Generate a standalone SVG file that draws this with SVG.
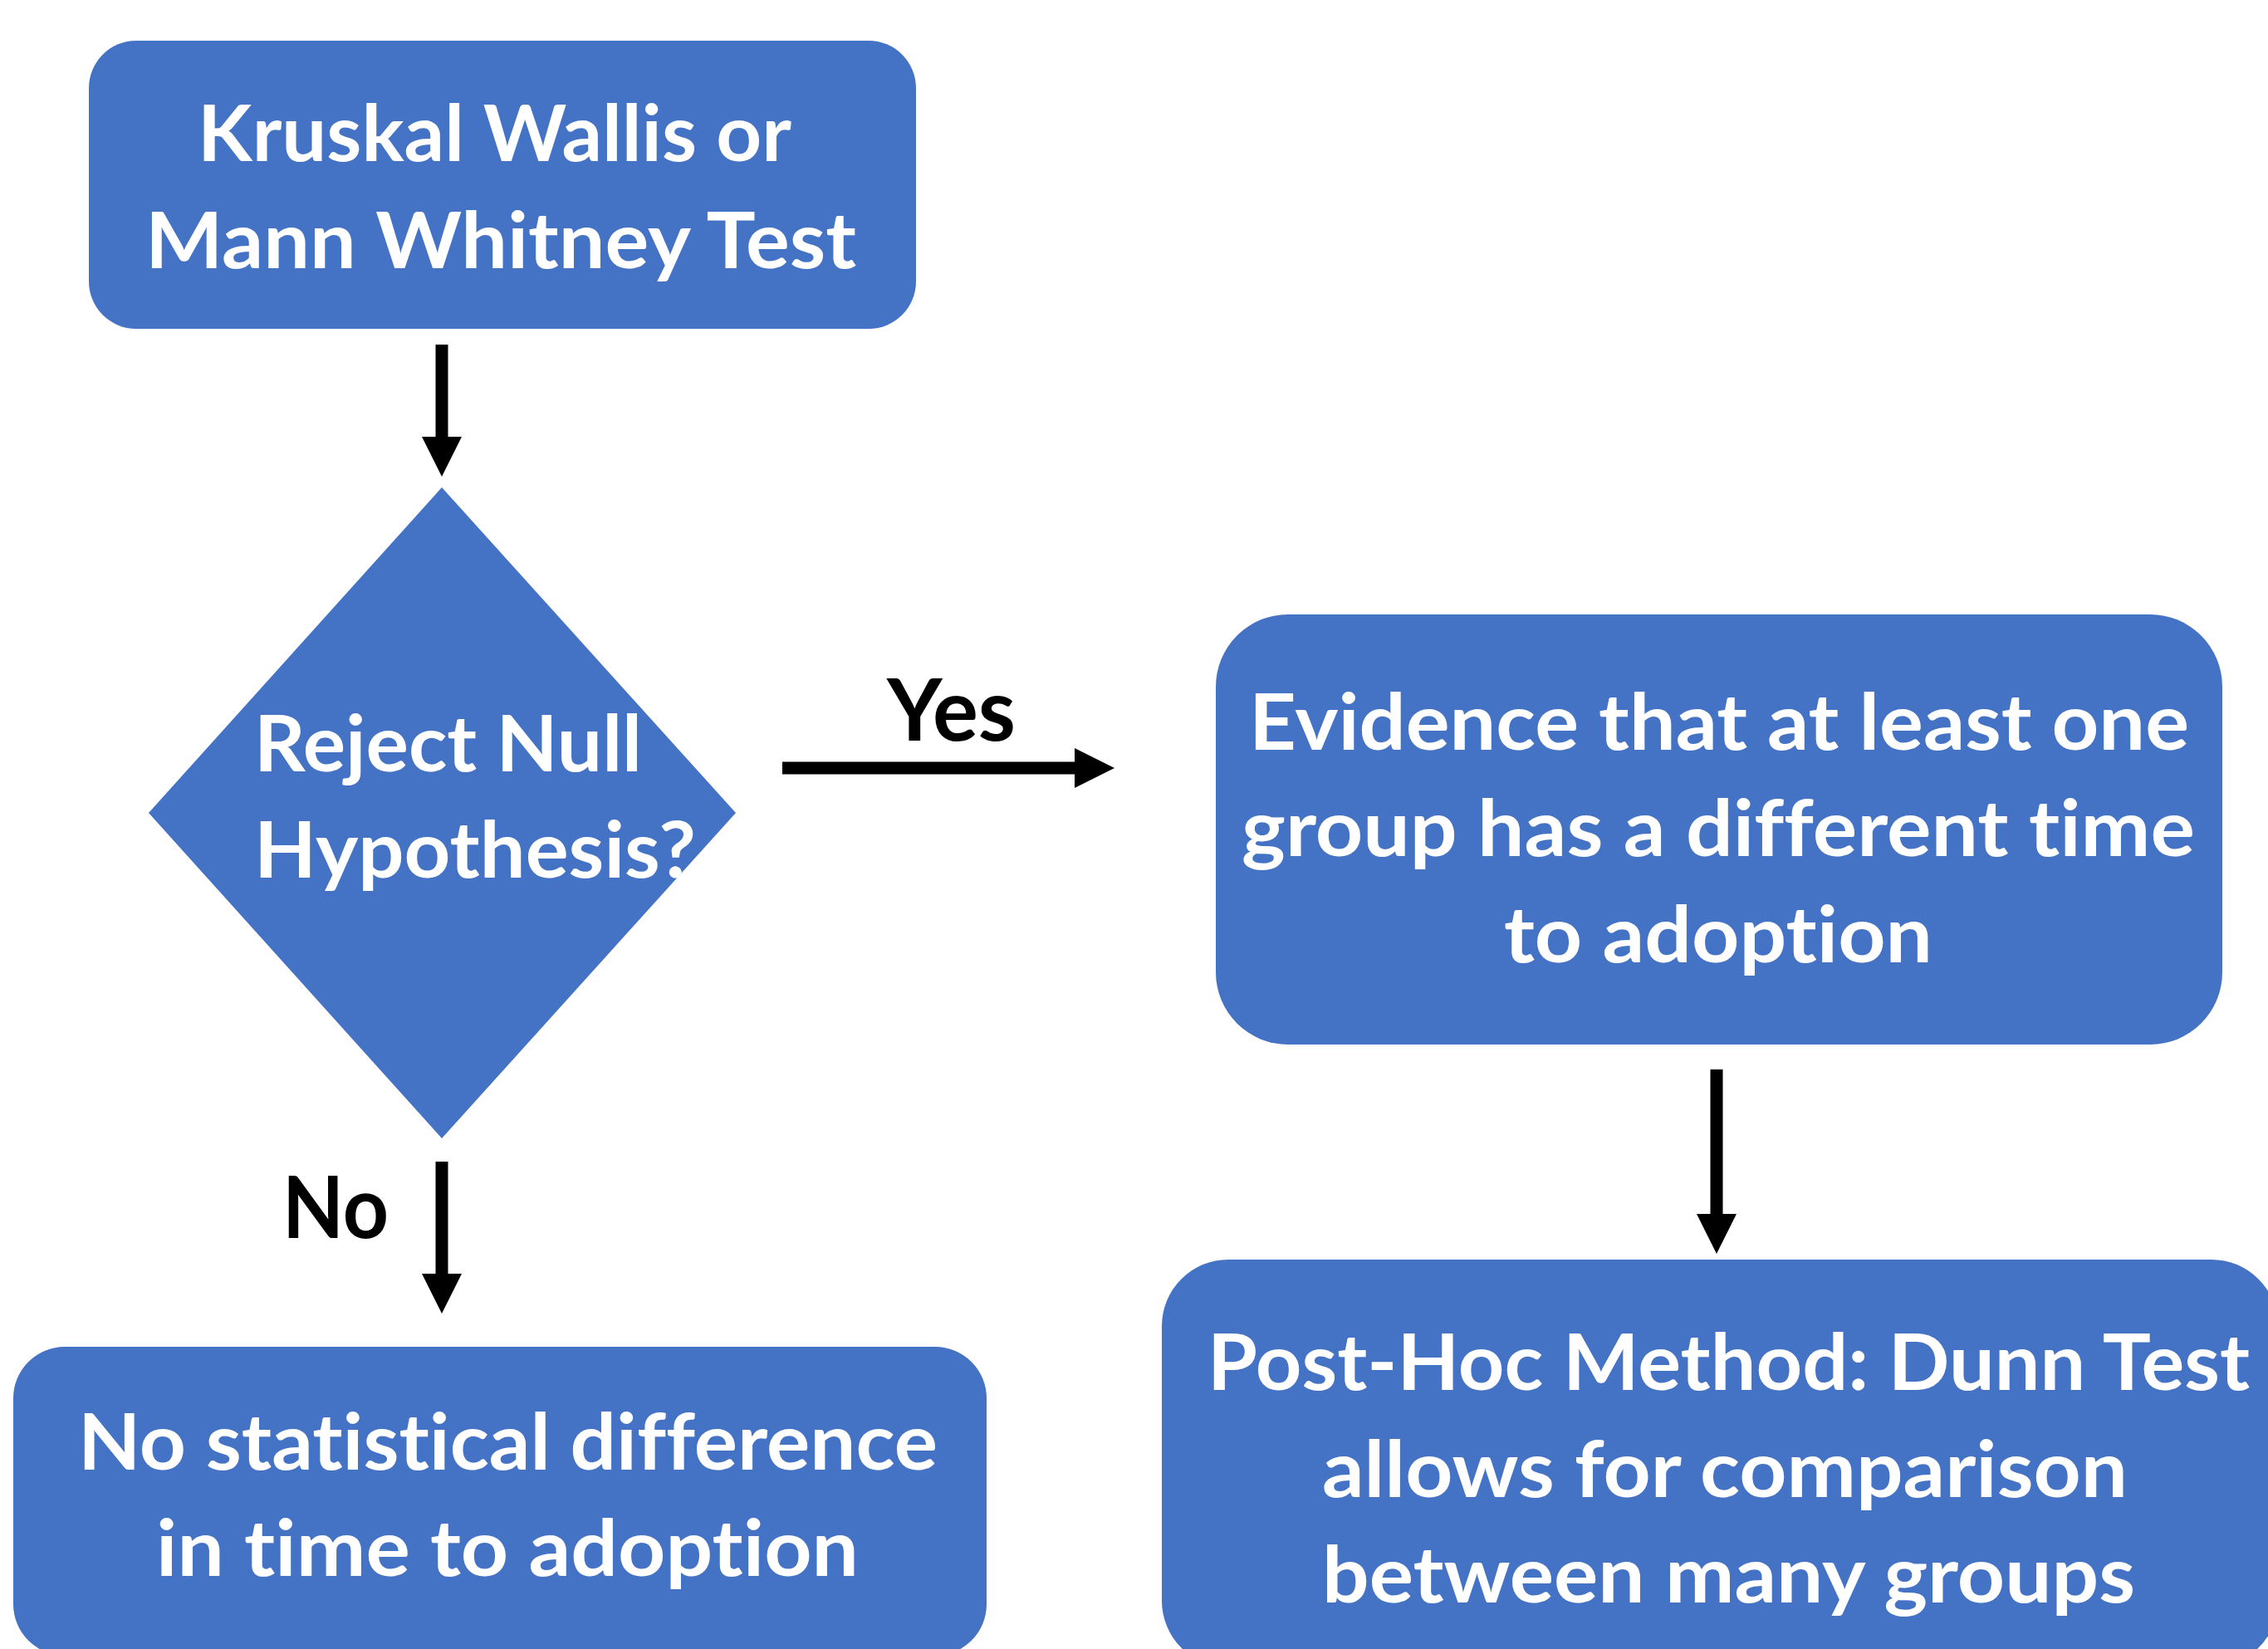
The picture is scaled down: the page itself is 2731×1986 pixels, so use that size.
<svg xmlns="http://www.w3.org/2000/svg" width="2731" height="1986" viewBox="0 0 2731 1986">
  <style>
    .shape { fill: #4472C4; }
    .lbl { font-family: Lato, "Open Sans", "Liberation Sans", sans-serif; font-weight: bold; fill: #FFFFFF; font-size: 94px; font-variant-ligatures: none; font-feature-settings: "liga" 0, "clig" 0; }
    .edge-lbl { font-family: Lato, "Open Sans", "Liberation Sans", sans-serif; font-weight: bold; fill: #000000; font-size: 104px; font-variant-ligatures: none; }
    .conn { stroke: #000000; stroke-width: 15; fill: none; marker-end: url(#head); }
  </style>
  <defs>
    <marker id="head" viewBox="0 0 48 48" markerWidth="48" markerHeight="48" refX="0" refY="24" orient="auto" markerUnits="userSpaceOnUse">
      <path d="M0,0 L48,24 L0,48 Z" fill="#000000"/>
    </marker>
  </defs>
  <rect width="2731" height="1986" fill="#FFFFFF"/>

  <!-- connectors -->
  <g id="connectors">
    <line class="conn" x1="532" y1="415" x2="532" y2="526"/>
    <line class="conn" x1="942" y1="925" x2="1294" y2="925"/>
    <line class="conn" x1="2067" y1="1288" x2="2067" y2="1462"/>
    <line class="conn" x1="532" y1="1399" x2="532" y2="1534"/>
    <text class="edge-lbl" x="1068" y="892" textLength="155" lengthAdjust="spacingAndGlyphs">Yes</text>
    <text class="edge-lbl" x="340" y="1491" textLength="128" lengthAdjust="spacingAndGlyphs">No</text>
  </g>

  <!-- start: the test -->
  <g id="node-test">
    <rect class="shape" x="107" y="49" width="996" height="347" rx="57" ry="57"/>
    <text class="lbl" x="238" y="194" textLength="715" lengthAdjust="spacingAndGlyphs">Kruskal Wallis or</text>
    <text class="lbl" x="175" y="323" textLength="856" lengthAdjust="spacingAndGlyphs">Mann Whitney Test</text>
  </g>

  <!-- decision -->
  <g id="node-decision">
    <polygon class="shape" points="532,587 886,979 532,1371 179,979"/>
    <text class="lbl" x="306" y="929" textLength="467" lengthAdjust="spacingAndGlyphs">Reject Null</text>
    <text class="lbl" x="306" y="1057" textLength="532" lengthAdjust="spacingAndGlyphs">Hypothesis?</text>
  </g>

  <!-- yes branch -->
  <g id="node-evidence">
    <rect class="shape" x="1464" y="740" width="1212" height="518" rx="87" ry="87"/>
    <text class="lbl" x="1504" y="903" textLength="1132" lengthAdjust="spacingAndGlyphs">Evidence that at least one</text>
    <text class="lbl" x="1495" y="1031" textLength="1148" lengthAdjust="spacingAndGlyphs">group has a different time</text>
    <text class="lbl" x="1811" y="1159" textLength="516" lengthAdjust="spacingAndGlyphs">to adoption</text>
  </g>

  <g id="node-posthoc">
    <rect class="shape" x="1399" y="1517" width="1344" height="491" rx="80" ry="80"/>
    <text class="lbl" x="1454" y="1674" textLength="1255" lengthAdjust="spacingAndGlyphs">Post-Hoc Method: Dunn Test</text>
    <text class="lbl" x="1592" y="1803" textLength="970" lengthAdjust="spacingAndGlyphs">allows for comparison</text>
    <text class="lbl" x="1592" y="1930" textLength="979" lengthAdjust="spacingAndGlyphs">between many groups</text>
  </g>

  <!-- no branch -->
  <g id="node-nodiff">
    <rect class="shape" x="16" y="1622" width="1172" height="372" rx="62" ry="62"/>
    <text class="lbl" x="94" y="1770" textLength="1035" lengthAdjust="spacingAndGlyphs">No statistical difference</text>
    <text class="lbl" x="188" y="1898" textLength="846" lengthAdjust="spacingAndGlyphs">in time to adoption</text>
  </g>
</svg>
